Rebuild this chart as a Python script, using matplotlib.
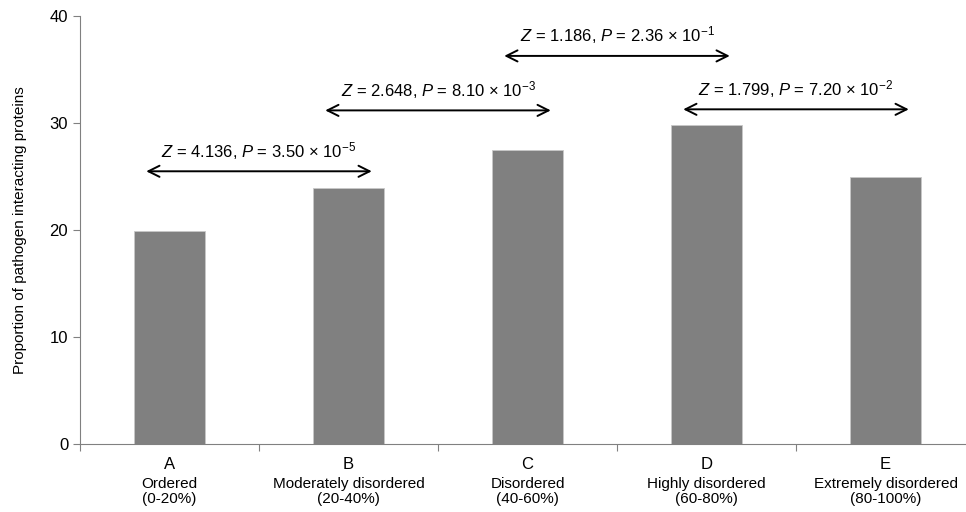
import numpy as np
import matplotlib.pyplot as plt

plt.rcParams['font.family'] = ['Liberation Sans', 'DejaVu Sans']
plt.rcParams['mathtext.fontset'] = 'custom'
plt.rcParams['mathtext.rm'] = 'Liberation Sans'
plt.rcParams['mathtext.it'] = 'Liberation Sans:italic'

letters = ['A', 'B', 'C', 'D', 'E']
names = ['Ordered', 'Moderately disordered', 'Disordered', 'Highly disordered', 'Extremely disordered']
ranges = ['(0-20%)', '(20-40%)', '(40-60%)', '(60-80%)', '(80-100%)']
values = [19.9, 23.9, 27.5, 29.8, 25.0]

# comparisons: (from, to, arrow height, Z, P mantissa, P exponent)
comp_from = [0, 1, 2, 3]
comp_to = [1, 2, 3, 4]
comp_y = [25.5, 31.2, 36.3, 31.3]
comp_z = ['4.136', '2.648', '1.186', '1.799']
comp_p = ['3.50', '8.10', '2.36', '7.20']
comp_e = ['5', '3', '1', '2']

fig = plt.figure(figsize=(9.66, 5.12), dpi=100)
ax = fig.add_axes([80/966, 0.1334, 886/966, 0.8346])

x = np.arange(len(values))
ax.bar(x, values, width=0.4, color='#808080', edgecolor='#c8c8c8', linewidth=0.6)

ax.set_xlim(-0.5, -0.5 + 886/179)
ax.set_ylim(0, 40)
ax.set_yticks([0, 10, 20, 30, 40])
ax.set_xticks(np.arange(len(values)) - 0.5)
ax.set_xticklabels([])
ax.tick_params(axis='y', labelsize=12, length=5, color='#808080')
ax.tick_params(axis='x', length=5, color='#808080')
for s in ['top', 'right']:
    ax.spines[s].set_visible(False)
for s in ['left', 'bottom']:
    ax.spines[s].set_color('#808080')
ax.set_ylabel('Proportion of pathogen interacting proteins', fontsize=11, labelpad=16)

tr = ax.get_xaxis_transform()
for i in range(len(values)):
    ax.text(i, -0.03, letters[i], transform=tr, ha='center', va='top', fontsize=12)
    ax.text(i, -0.078, names[i] + '\n' + ranges[i], transform=tr, ha='center', va='top',
            fontsize=11, linespacing=1.1)

for a, b, y, z, p, e in zip(comp_from, comp_to, comp_y, comp_z, comp_p, comp_e):
    x0 = a - 0.13
    x1 = b + 0.13
    ax.annotate('', xy=(x0, y), xytext=(x1, y),
                arrowprops=dict(arrowstyle='<->', color='black', lw=1.4,
                                mutation_scale=20, shrinkA=0, shrinkB=0))
    ax.text((x0 + x1) / 2, y + 0.9, r'$Z$ = ' + z + r', $P$ = ' + p + r' × 10$^{\mathrm{−' + e + r'}}$',
            ha='center', va='bottom', fontsize=12)

plt.savefig('out.png')
